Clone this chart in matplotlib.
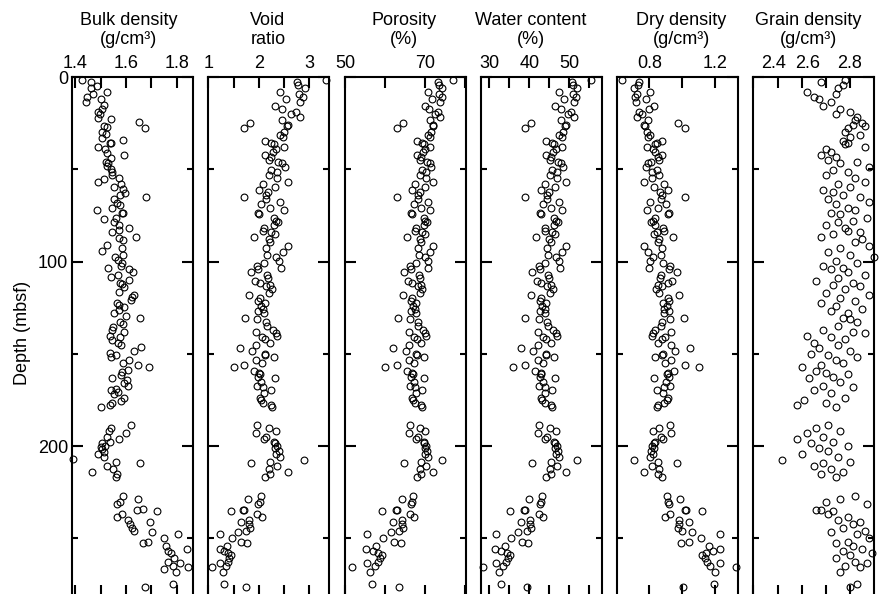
import matplotlib
matplotlib.use("Agg")
import matplotlib.pyplot as plt
from matplotlib.ticker import FixedLocator, MultipleLocator
from matplotlib.transforms import ScaledTranslation

plt.rcParams["font.family"] = ["Liberation Sans", "DejaVu Sans"]
plt.rcParams["font.size"] = 13

# --- bulk density (own sample depths) ---
bulk_depth = [
    1.6, 2.5, 4.7, 5.8, 9.4, 8.3, 11.0, 13.7, 12.1, 15.2, 17.5, 18.8, 20.0, 22.0, 23.0, 24.6, 27.8, 26.6,
    26.9, 30.0, 31.0, 33.0, 35.6, 36.0, 34.3, 37.8, 39.0, 41.0, 42.3, 43.7, 45.9, 46.8, 48.0, 50.0, 51.3,
    53.0, 56.7, 55.5, 54.6, 58.2, 59.4, 60.9, 62.7, 64.0, 64.9, 66.3, 68.1, 69.4, 70.8, 72.1, 73.5, 73.9,
    77.1, 76.2, 78.4, 80.2, 81.7, 83.8, 83.1, 86.5, 87.4, 88.3, 91.0, 92.9, 94.3, 96.5, 97.7, 99.2, 100.6,
    102.3, 103.3, 104.2, 105.5, 108.6, 107.3, 110.0, 111.8, 112.4, 113.6, 116.3, 119.0, 118.2, 120.9,
    122.7, 123.6, 124.8, 127.7, 126.3, 129.4, 130.8, 132.6, 133.9, 135.7, 137.1, 138.4, 140.4, 140.7,
    142.5, 144.0, 145.2, 146.5, 148.3, 149.8, 151.5, 150.7, 153.4, 154.8, 156.1, 157.4, 158.8, 160.1,
    161.5, 162.9, 164.2, 165.6, 167.5, 169.6, 169.0, 170.9, 172.0, 174.2, 175.4, 176.9, 177.8, 179.0,
    188.6, 190.4, 191.9, 194.9, 193.1, 196.2, 197.6, 198.5, 200.7, 200.0, 201.6, 204.3, 203.2, 205.7,
    207.2, 208.8, 209.0, 210.7, 212.6, 213.9, 215.2, 216.6, 226.9, 230.2, 228.9, 231.4, 234.7, 234.3,
    235.5, 236.7, 238.3, 240.1, 241.4, 242.4, 244.2, 245.9, 246.4, 247.9, 252.4, 252.3, 249.7, 254.1,
    255.7, 256.7, 257.8, 260.5, 262.7, 263.6, 266.8, 265.0, 268.5, 265.7, 276.4, 275.0,
]
bulk_density = [
    1.426, 1.463, 1.485, 1.462, 1.472, 1.525, 1.446, 1.443, 1.501, 1.515, 1.505, 1.492, 1.498, 1.489,
    1.542, 1.652, 1.676, 1.514, 1.525, 1.505, 1.521, 1.506, 1.542, 1.538, 1.588, 1.492, 1.518, 1.527,
    1.594, 1.542, 1.521, 1.531, 1.525, 1.540, 1.547, 1.544, 1.492, 1.515, 1.573, 1.581, 1.555, 1.588,
    1.597, 1.577, 1.678, 1.554, 1.564, 1.577, 1.547, 1.485, 1.590, 1.586, 1.514, 1.561, 1.555, 1.571,
    1.614, 1.547, 1.573, 1.640, 1.571, 1.588, 1.525, 1.584, 1.505, 1.590, 1.557, 1.567, 1.584, 1.581,
    1.529, 1.613, 1.626, 1.540, 1.568, 1.613, 1.577, 1.584, 1.594, 1.571, 1.623, 1.632, 1.619, 1.564,
    1.571, 1.594, 1.555, 1.571, 1.601, 1.656, 1.577, 1.590, 1.551, 1.544, 1.593, 1.538, 1.577, 1.547,
    1.567, 1.580, 1.659, 1.632, 1.538, 1.540, 1.560, 1.613, 1.590, 1.647, 1.690, 1.607, 1.584, 1.580,
    1.547, 1.603, 1.594, 1.610, 1.540, 1.561, 1.567, 1.555, 1.594, 1.581, 1.544, 1.538, 1.502, 1.619,
    1.542, 1.535, 1.525, 1.601, 1.573, 1.538, 1.505, 1.501, 1.518, 1.505, 1.489, 1.512, 1.512, 1.393,
    1.561, 1.656, 1.527, 1.551, 1.468, 1.564, 1.561, 1.590, 1.577, 1.647, 1.564, 1.645, 1.669, 1.723,
    1.584, 1.564, 1.610, 1.693, 1.617, 1.623, 1.632, 1.703, 1.804, 1.666, 1.686, 1.750, 1.756, 1.840,
    1.767, 1.777, 1.791, 1.764, 1.813, 1.748, 1.787, 1.798, 1.846, 1.676, 1.787,
]

# --- shared sample depths for the remaining properties ---
depth = [
    1.4, 2.5, 4.3, 6.1, 8.3, 9.4, 10.8, 12.1, 13.7, 15.5, 17.5, 18.8, 20.0, 21.9, 24.8, 27.8, 23.3, 26.4,
    26.0, 29.6, 31.4, 32.7, 34.5, 35.6, 36.3, 37.8, 39.2, 40.8, 42.3, 43.2, 45.0, 45.9, 46.8, 48.6, 50.4,
    51.7, 53.1, 54.9, 56.7, 58.2, 61.2, 59.4, 62.5, 64.0, 64.9, 66.1, 67.6, 69.0, 70.8, 72.1, 73.5, 74.1,
    76.2, 78.0, 78.8, 80.2, 82.0, 83.3, 83.8, 85.3, 86.9, 88.0, 89.6, 91.4, 92.9, 94.7, 96.5, 97.7, 99.5,
    101.0, 103.3, 102.3, 104.2, 105.9, 107.3, 108.8, 110.4, 111.8, 113.1, 112.7, 115.1, 116.9, 118.2,
    119.6, 121.4, 122.3, 124.1, 125.9, 127.7, 126.6, 130.8, 131.3, 133.0, 134.8, 137.1, 138.4, 138.9,
    140.7, 142.2, 144.0, 140.4, 145.2, 146.7, 148.5, 150.1, 150.7, 151.9, 157.4, 156.1, 153.4, 155.2,
    159.2, 160.3, 161.2, 162.4, 162.9, 165.1, 167.5, 167.9, 169.6, 171.1, 173.8, 175.1, 176.5, 177.8,
    179.0, 188.6, 190.1, 191.7, 193.1, 194.9, 196.4, 197.6, 198.5, 199.8, 201.3, 202.7, 204.3, 205.8,
    207.6, 209.0, 208.8, 210.6, 212.6, 213.9, 215.4, 216.6, 226.9, 230.2, 228.9, 231.4, 235.5, 234.7,
    234.9, 236.9, 238.3, 241.4, 240.1, 242.4, 244.2, 245.9, 246.4, 247.9, 249.7, 252.3, 252.4, 254.1,
    255.8, 256.7, 257.8, 259.1, 260.9, 263.6, 262.7, 265.3, 265.7, 268.5, 276.4, 275.0,
]
void_ratio = [
    3.34, 2.75, 2.77, 2.91, 2.42, 2.79, 2.87, 2.54, 2.82, 2.33, 2.46, 2.73, 2.64, 2.81, 1.82, 1.71, 2.47,
    2.57, 2.59, 2.51, 2.42, 2.49, 2.13, 2.25, 2.31, 2.50, 2.34, 2.29, 2.13, 2.24, 2.21, 2.39, 2.47, 2.52,
    2.25, 2.37, 2.21, 2.37, 2.59, 2.09, 2.01, 2.33, 2.19, 2.14, 1.70, 2.15, 2.42, 2.05, 2.23, 2.50, 1.99,
    2.01, 2.31, 2.35, 2.39, 2.31, 2.11, 2.09, 2.25, 2.33, 1.91, 2.20, 2.23, 2.59, 2.14, 2.49, 2.17, 2.35,
    2.41, 2.11, 2.44, 1.97, 1.99, 1.84, 2.17, 2.19, 1.93, 2.02, 2.14, 2.23, 2.27, 2.21, 1.81, 2.02, 1.99,
    2.12, 2.04, 2.09, 2.10, 1.99, 1.72, 1.97, 2.14, 2.16, 2.29, 1.95, 2.35, 2.07, 2.13, 2.23, 2.37, 1.95,
    1.63, 1.87, 2.12, 2.13, 2.30, 1.50, 1.70, 1.95, 2.07, 1.90, 2.01, 2.03, 1.99, 2.32, 2.05, 1.97, 2.09,
    2.25, 2.11, 2.02, 2.04, 2.09, 2.24, 2.26, 1.97, 2.21, 2.35, 1.95, 2.15, 2.11, 2.30, 2.32, 2.37, 2.33,
    2.40, 2.35, 2.42, 2.90, 1.84, 2.23, 2.37, 2.21, 2.59, 2.23, 2.13, 2.04, 2.02, 1.79, 1.99, 1.45, 1.69,
    1.70, 1.97, 2.07, 1.64, 1.80, 1.80, 1.82, 1.75, 1.59, 1.24, 1.47, 1.65, 1.77, 1.37, 1.23, 1.32, 1.40,
    1.45, 1.42, 1.24, 1.39, 1.35, 1.07, 1.29, 1.74, 1.31,
]
porosity = [
    77.0, 73.3, 73.5, 74.4, 70.8, 73.6, 74.2, 71.8, 73.8, 70.0, 71.1, 73.2, 72.5, 73.8, 64.5, 63.1, 71.2,
    72.0, 72.1, 71.5, 70.8, 71.3, 68.1, 69.2, 69.8, 71.4, 70.1, 69.6, 68.1, 69.1, 68.8, 70.5, 71.2, 71.6,
    69.2, 70.3, 68.8, 70.3, 72.1, 67.6, 66.8, 70.0, 68.7, 68.2, 63.0, 68.3, 70.8, 67.2, 69.0, 71.4, 66.6,
    66.8, 69.8, 70.1, 70.5, 69.8, 67.8, 67.6, 69.2, 70.0, 65.6, 68.8, 69.0, 72.1, 68.2, 71.3, 68.5, 70.1,
    70.7, 67.8, 70.9, 66.3, 66.6, 64.8, 68.5, 68.7, 65.9, 66.9, 68.2, 69.0, 69.4, 68.8, 64.4, 66.9, 66.6,
    67.9, 67.1, 67.6, 67.7, 66.6, 63.2, 66.3, 68.2, 68.4, 69.6, 66.1, 70.1, 67.4, 68.1, 69.0, 70.3, 66.1,
    62.0, 65.2, 67.9, 68.1, 69.7, 60.0, 63.0, 66.1, 67.4, 65.5, 66.8, 67.0, 66.6, 69.9, 67.2, 66.3, 67.6,
    69.2, 67.8, 66.9, 67.1, 67.6, 69.1, 69.3, 66.3, 68.8, 70.1, 66.1, 68.3, 67.8, 69.7, 69.9, 70.3, 70.0,
    70.6, 70.1, 70.8, 74.4, 64.8, 69.0, 70.3, 68.8, 72.1, 69.0, 68.1, 67.1, 66.9, 64.2, 66.6, 59.2, 62.8,
    63.0, 66.3, 67.4, 62.1, 64.3, 64.3, 64.5, 63.6, 61.4, 55.4, 59.5, 62.3, 63.9, 57.8, 55.2, 56.9, 58.3,
    59.2, 58.7, 55.4, 58.2, 57.4, 51.7, 56.3, 63.5, 56.7,
]
water_content = [
    55.4, 50.6, 50.8, 52.0, 47.4, 50.9, 51.7, 48.6, 51.2, 46.5, 47.8, 50.4, 49.6, 51.1, 40.4, 38.9, 47.9,
    48.9, 49.1, 48.3, 47.4, 48.1, 44.2, 45.6, 46.2, 48.2, 46.6, 46.0, 44.2, 45.5, 45.1, 47.1, 47.9, 48.4,
    45.6, 46.9, 45.1, 46.9, 49.1, 43.8, 42.8, 46.5, 44.9, 44.3, 38.8, 44.5, 47.4, 43.3, 45.4, 48.2, 42.6,
    42.8, 46.2, 46.7, 47.1, 46.2, 44.0, 43.8, 45.6, 46.5, 41.6, 45.0, 45.4, 49.1, 44.3, 48.1, 44.7, 46.7,
    47.3, 44.0, 47.6, 42.3, 42.6, 40.7, 44.7, 44.9, 41.8, 42.9, 44.3, 45.4, 45.8, 45.1, 40.3, 42.9, 42.6,
    44.1, 43.2, 43.8, 43.9, 42.6, 39.0, 42.3, 44.3, 44.6, 46.0, 42.1, 46.7, 43.5, 44.2, 45.4, 46.9, 42.1,
    37.8, 41.0, 44.1, 44.2, 46.1, 35.8, 38.8, 42.1, 43.5, 41.4, 42.8, 43.0, 42.6, 46.3, 43.3, 42.3, 43.8,
    45.6, 44.0, 42.9, 43.2, 43.8, 45.5, 45.7, 42.3, 45.1, 46.7, 42.1, 44.5, 44.0, 46.1, 46.3, 46.9, 46.5,
    47.2, 46.7, 47.4, 51.9, 40.7, 45.4, 46.9, 45.1, 49.1, 45.4, 44.2, 43.2, 42.9, 40.0, 42.6, 35.1, 38.6,
    38.8, 42.3, 43.5, 37.9, 40.1, 40.1, 40.4, 39.5, 37.2, 31.6, 35.4, 38.1, 39.7, 33.8, 31.4, 33.0, 34.3,
    35.1, 34.6, 31.6, 34.1, 33.4, 28.5, 32.4, 39.3, 32.8,
]
dry_density = [
    0.634, 0.733, 0.729, 0.703, 0.804, 0.726, 0.711, 0.777, 0.720, 0.826, 0.795, 0.737, 0.755, 0.722,
    0.975, 1.015, 0.793, 0.770, 0.766, 0.783, 0.804, 0.788, 0.879, 0.846, 0.831, 0.786, 0.823, 0.836,
    0.879, 0.849, 0.857, 0.811, 0.793, 0.781, 0.846, 0.816, 0.857, 0.816, 0.766, 0.890, 0.914, 0.826,
    0.862, 0.876, 1.019, 0.873, 0.804, 0.902, 0.851, 0.786, 0.920, 0.914, 0.831, 0.821, 0.811, 0.831,
    0.884, 0.890, 0.846, 0.826, 0.945, 0.859, 0.851, 0.766, 0.876, 0.788, 0.868, 0.821, 0.806, 0.884,
    0.799, 0.926, 0.920, 0.968, 0.868, 0.862, 0.939, 0.911, 0.876, 0.851, 0.841, 0.857, 0.979, 0.911,
    0.920, 0.881, 0.905, 0.890, 0.887, 0.920, 1.011, 0.926, 0.876, 0.870, 0.836, 0.932, 0.821, 0.896,
    0.879, 0.851, 0.816, 0.932, 1.046, 0.958, 0.881, 0.879, 0.833, 1.100, 1.019, 0.932, 0.896, 0.948,
    0.914, 0.908, 0.920, 0.828, 0.902, 0.926, 0.890, 0.846, 0.884, 0.911, 0.905, 0.890, 0.849, 0.844,
    0.926, 0.857, 0.821, 0.932, 0.873, 0.884, 0.833, 0.828, 0.816, 0.826, 0.809, 0.821, 0.804, 0.705,
    0.968, 0.851, 0.816, 0.857, 0.766, 0.851, 0.879, 0.905, 0.911, 0.986, 0.920, 1.122, 1.022, 1.019,
    0.926, 0.896, 1.042, 0.982, 0.982, 0.975, 1.000, 1.062, 1.228, 1.113, 1.038, 0.993, 1.160, 1.233,
    1.185, 1.146, 1.122, 1.136, 1.228, 1.151, 1.170, 1.329, 1.201, 1.004, 1.192,
]
grain_density = [
    2.78, 2.68, 2.77, 2.75, 2.62, 2.74, 2.65, 2.67, 2.72, 2.69, 2.76, 2.80, 2.74, 2.83, 2.85, 2.79, 2.82,
    2.86, 2.81, 2.78, 2.84, 2.80, 2.77, 2.79, 2.78, 2.86, 2.70, 2.72, 2.68, 2.74, 2.71, 2.83, 2.76, 2.88,
    2.73, 2.79, 2.70, 2.82, 2.86, 2.75, 2.69, 2.80, 2.73, 2.77, 2.84, 2.71, 2.88, 2.74, 2.79, 2.82, 2.72,
    2.76, 2.87, 2.81, 2.75, 2.70, 2.78, 2.79, 2.84, 2.73, 2.68, 2.85, 2.82, 2.88, 2.76, 2.71, 2.80, 2.90,
    2.74, 2.83, 2.77, 2.69, 2.72, 2.79, 2.86, 2.75, 2.66, 2.81, 2.84, 2.73, 2.78, 2.70, 2.88, 2.76, 2.82,
    2.68, 2.74, 2.85, 2.79, 2.72, 2.77, 2.80, 2.83, 2.75, 2.69, 2.81, 2.86, 2.72, 2.78, 2.65, 2.62, 2.75,
    2.67, 2.80, 2.64, 2.71, 2.83, 2.60, 2.68, 2.74, 2.77, 2.66, 2.70, 2.79, 2.73, 2.63, 2.76, 2.69, 2.81,
    2.65, 2.72, 2.78, 2.61, 2.70, 2.58, 2.74, 2.71, 2.66, 2.76, 2.62, 2.69, 2.58, 2.73, 2.64, 2.79, 2.67,
    2.71, 2.60, 2.75, 2.52, 2.69, 2.80, 2.65, 2.72, 2.77, 2.68, 2.74, 2.82, 2.70, 2.76, 2.87, 2.73, 2.66,
    2.68, 2.71, 2.79, 2.84, 2.75, 2.81, 2.77, 2.86, 2.72, 2.83, 2.88, 2.79, 2.74, 2.81, 2.85, 2.77, 2.89,
    2.80, 2.74, 2.87, 2.82, 2.78, 2.84, 2.76, 2.80, 2.83,
]

panels = [
    {"title": ("Bulk density", "(g/cm\u00b3)"), "depth": bulk_depth, "values": bulk_density,
     "xlim": (1.389, 1.865), "ticks": [1.4, 1.5, 1.6, 1.7, 1.8],
     "labels": ["1.4", "", "1.6", "", "1.8"], "title_x": 128.5},
    {"title": ("Void", "ratio"), "depth": depth, "values": void_ratio,
     "xlim": (1.0, 3.4), "ticks": [1.0, 1.5, 2.0, 2.5, 3.0],
     "labels": ["1", "", "2", "", "3"], "title_x": 268.0},
    {"title": ("Porosity", "(%)"), "depth": depth, "values": porosity,
     "xlim": (50, 80.3), "ticks": [50, 60, 70, 80],
     "labels": ["50", "", "70", ""], "title_x": 404.0},
    {"title": ("Water content", "(%)"), "depth": depth, "values": water_content,
     "xlim": (27.85, 58.1), "ticks": [30, 35, 40, 45, 50, 55],
     "labels": ["30", "", "40", "", "50", ""], "title_x": 531.0},
    {"title": ("Dry density", "(g/cm\u00b3)"), "depth": depth, "values": dry_density,
     "xlim": (0.6, 1.338), "ticks": [0.8, 1.0, 1.2],
     "labels": ["0.8", "", "1.2"], "title_x": 681.0},
    {"title": ("Grain density", "(g/cm\u00b3)"), "depth": depth, "values": grain_density,
     "xlim": (2.4, 2.9), "ticks": [2.4, 2.5, 2.6, 2.7, 2.8],
     "labels": ["2.4", "", "2.6", "", "2.8"], "title_x": 808.5,
     "label_shift": [20, 0, 6, 0, -1]},
]

W, H = 884, 594
fig = plt.figure(figsize=(W / 100, H / 100), dpi=100)

lefts = [72.3, 208.3, 345.0, 480.7, 616.7, 753.3]
width = 121.0
top, bottom = 77.0, 596.0

for i, (p, x0) in enumerate(zip(panels, lefts)):
    ax = fig.add_axes([x0 / W, 1 - bottom / H, width / W, (bottom - top) / H])
    ax.plot(p["values"], p["depth"], "o", mfc="none", mec="black", ms=4.9, mew=0.8,
            clip_on=False)
    ax.set_xlim(*p["xlim"])
    ax.set_ylim(281.3, 0)

    ax.xaxis.set_major_locator(FixedLocator(p["ticks"]))
    ax.set_xticklabels(p["labels"])
    ax.tick_params(axis="x", which="both", direction="in", top=True, bottom=True,
                   labeltop=True, labelbottom=False, length=8, width=1.5, pad=3.5)
    # hand-placed labels on the grain density scale
    for lab, dx in zip(ax.get_xticklabels(), p.get("label_shift", [])):
        lab.set_transform(lab.get_transform() + ScaledTranslation(dx / 100, 0, fig.dpi_scale_trans))

    ax.yaxis.set_major_locator(MultipleLocator(100))
    ax.yaxis.set_minor_locator(MultipleLocator(50))
    ax.tick_params(axis="y", which="major", direction="in", left=True, right=True,
                   length=8, width=1.5, pad=3, labelleft=(i == 0))
    ax.tick_params(axis="y", which="minor", direction="in", left=True, right=True,
                   length=4.5, width=1.5)
    for s in ax.spines.values():
        s.set_linewidth(1.5)

    cx = p["title_x"] / W
    fig.text(cx, 1 - 25 / H, p["title"][0], ha="center", va="baseline")
    fig.text(cx, 1 - 44 / H, p["title"][1], ha="center", va="baseline")

fig.text(23 / W, 1 - 333 / H, "Depth (mbsf)", rotation=90, ha="center", va="center")

fig.savefig("out.png", dpi=100)
